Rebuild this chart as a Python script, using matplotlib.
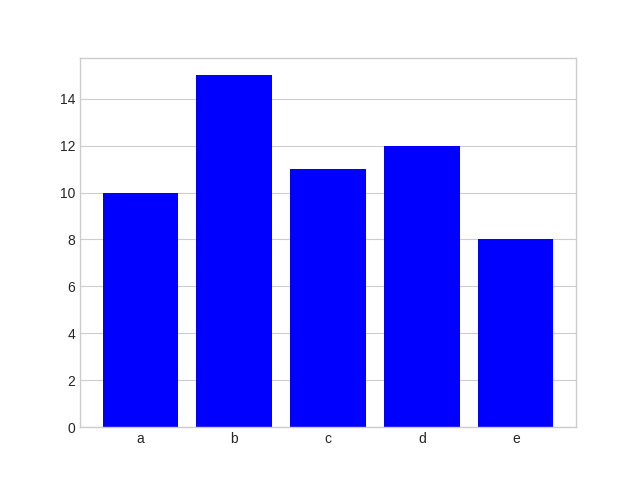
import matplotlib
matplotlib.use("Agg")
import matplotlib.pyplot as plt

categories = ["a", "b", "c", "d", "e"]
values = [10, 15, 11, 12, 8]

plt.style.use("seaborn-v0_8-whitegrid")

fig, ax = plt.subplots(figsize=(6.4, 4.8), dpi=100)
ax.bar(categories, values, color="blue")
ax.grid(False, axis="x")

fig.savefig("out.png", dpi=100)
plt.close(fig)
